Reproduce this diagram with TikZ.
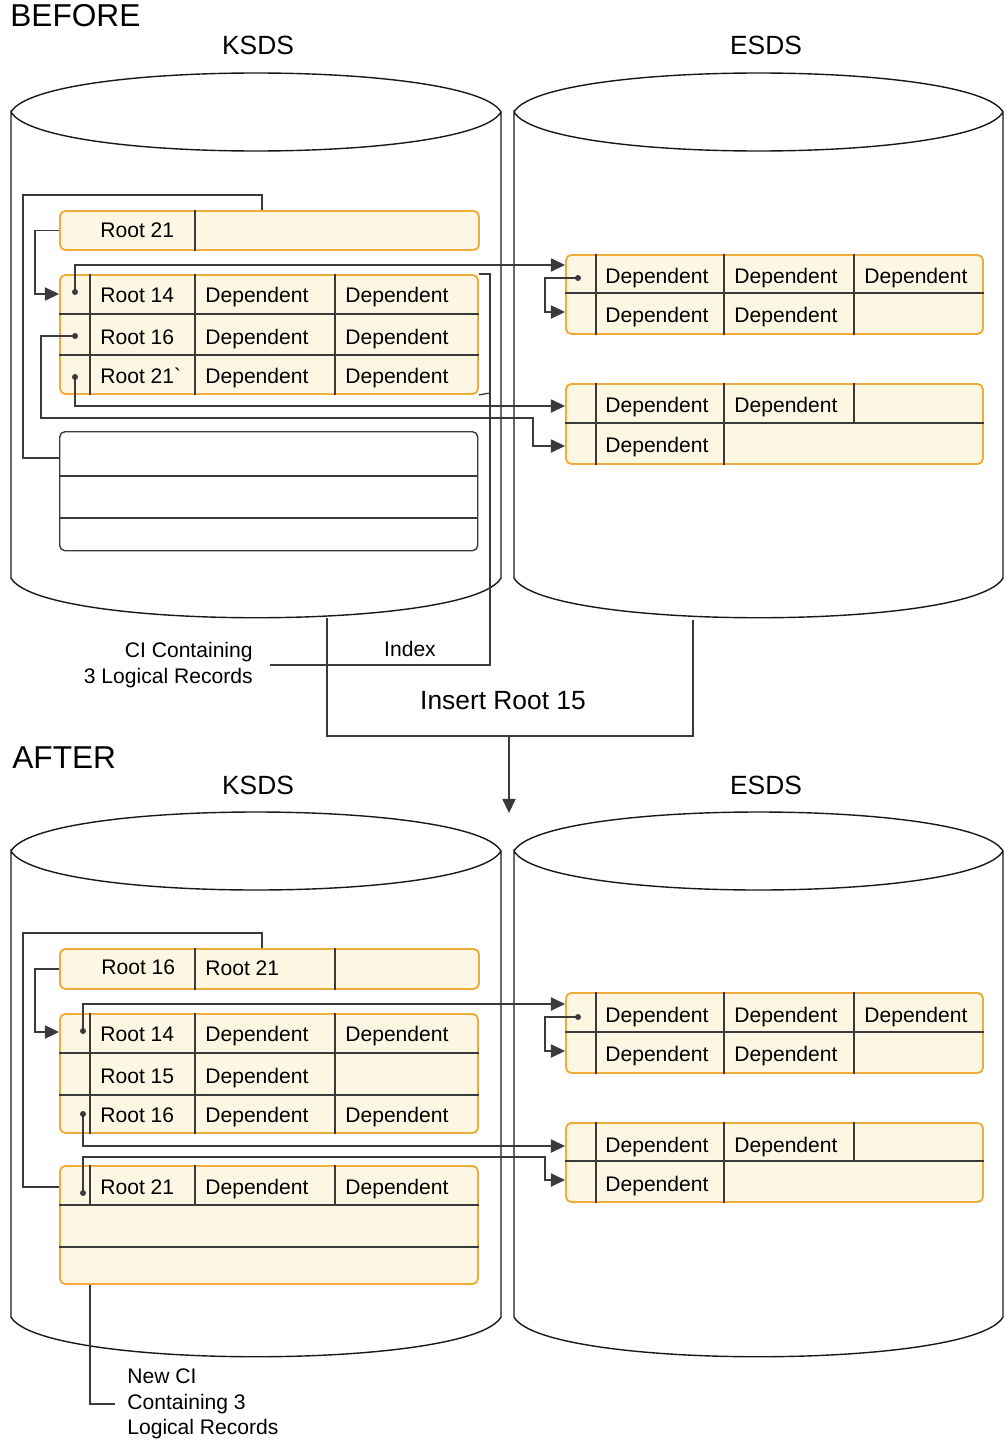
\documentclass[tikz,border=0pt]{standalone}
\usepackage{fontspec}
\setmainfont{Liberation Sans}
\usetikzlibrary{arrows.meta}
\definecolor{recedge}{HTML}{F0AC3A}
\definecolor{recfill}{HTML}{FDF6E2}
\definecolor{wire}{HTML}{3A3A3A}
\newcommand{\upx}{0.02cm}

\begin{document}
\begin{tikzpicture}[x=0.02cm, y=-0.02cm,
  drum/.style={draw=black!90, line width=0.8pt},
  rec/.style={draw=recedge, fill=recfill, line width=1.1pt, rounded corners=3pt, anchor=north west, inner sep=0pt},
  freeci/.style={draw=wire, fill=white, line width=0.8pt, rounded corners=3pt, anchor=north west, inner sep=0pt},
  grid/.style={draw=wire, line width=0.75pt},
  link/.style={draw=wire, line width=0.75pt},
  arr/.style={link, -{Triangle[length=8pt,width=7.5pt]}},
  cell/.style={anchor=west, inner sep=0pt, text height=8.6pt, text depth=0pt, font=\fontsize{12}{14.4}\selectfont},
  lbl/.style={inner sep=0pt, font=\fontsize{12}{14.6}\selectfont},
  head/.style={inner sep=0pt, font=\fontsize{15}{18}\selectfont},
  title/.style={anchor=base west, inner sep=0pt, font=\fontsize{18}{21}\selectfont}
]
\useasboundingbox (0,0) rectangle (1005,1443);

% ---------------- before
\node[title] (before) at (10,27) {BEFORE};
\node[head] (bksds) at (258,45) {KSDS};
\node[head] (besds) at (766,45) {ESDS};

\draw[drum] (11,112) .. controls (41,60) and (471,60) .. (501,112) .. controls (471,164) and (41,164) .. (11,112)
  -- (11,578) .. controls (41,631) and (471,631) .. (501,578) -- (501,112);
\draw[drum] (514,112) .. controls (544,60) and (973,60) .. (1003,112) .. controls (973,164) and (544,164) .. (514,112)
  -- (514,578) .. controls (544,631) and (973,631) .. (1003,578) -- (1003,112);

\node[rec, minimum width=419*\upx, minimum height=39*\upx] (bidx) at (59,210) {};
\node[rec, minimum width=418*\upx, minimum height=119*\upx] (bci) at (59,274) {};
\node[freeci, minimum width=418*\upx, minimum height=119*\upx] (bfree) at (59,431) {};
\node[rec, minimum width=417*\upx, minimum height=79*\upx] (be1) at (565,254) {};
\node[rec, minimum width=417*\upx, minimum height=80*\upx] (be2) at (565,383) {};

\draw[grid] (bidx.north -| 195,0) -- (bidx.south -| 195,0);
\foreach \x in {90,195,335} \draw[grid] (bci.north -| \x,0) -- (bci.south -| \x,0);
\foreach \y in {314,355} \draw[grid] (bci.west |- 0,\y) -- (bci.east |- 0,\y);
\foreach \y in {476,518} \draw[grid] (bfree.west |- 0,\y) -- (bfree.east |- 0,\y);
\foreach \x in {596,724,854} \draw[grid] (be1.north -| \x,0) -- (be1.south -| \x,0);
\draw[grid] (be1.west |- 0,293) -- (be1.east |- 0,293);
\foreach \x in {596,724} \draw[grid] (be2.north -| \x,0) -- (be2.south -| \x,0);
\draw[grid] (be2.north -| 854,0) -- (854,423);
\draw[grid] (be2.west |- 0,423) -- (be2.east |- 0,423);

\node[cell] (bidx-k1) at (100,230) {Root 21};
\foreach \y/\k [count=\i] in {295/Root 14,337/Root 16,376/Root 21\textasciigrave} {
  \node[cell] (bci-k\i) at (100,\y) {\k};
  \node[cell] (bci-a\i) at (205,\y) {Dependent};
  \node[cell] (bci-b\i) at (345,\y) {Dependent};
}
\foreach \x [count=\i] in {605,734,864} \node[cell] (be1-a\i) at (\x,276) {Dependent};
\foreach \x [count=\i] in {605,734} \node[cell] (be1-b\i) at (\x,315) {Dependent};
\foreach \x [count=\i] in {605,734} \node[cell] (be2-a\i) at (\x,405) {Dependent};
\node[cell] (be2-b1) at (605,445) {Dependent};

\coordinate (b14) at (75,292);
\coordinate (b16) at (75,336);
\coordinate (b21) at (75,377);
\coordinate (be1p) at (578,278);
\foreach \p in {b14,b16,b21,be1p} \fill[wire] (\p) circle (1.7pt);

\draw[link] (bidx.north -| 262,0) -- ++(0,-15) -| (23,458) -- (bfree.west |- 0,458);
\draw[arr] (bidx.west) -- ++(-24,0) |- (bci.west |- 0,294);
\draw[arr] (b14) |- (be1.west |- 0,265);
\draw[arr] (b16) -| (41,418) -| (533,446) -- (be2.west |- 0,446);
\draw[arr] (b21) |- (be2.west |- 0,406);
\draw[arr] (be1p) -- ++(-33,0) |- (be1.west |- 0,312);

\node[lbl, align=right, anchor=east] (cilbl) at (253,665) {CI Containing\\3 Logical Records};
\node[lbl] (index) at (410,649) {Index};
\draw[link] (bci.north east) -- (490,274) -- (490,665) -- ([xshift=17*\upx]cilbl.east);
\draw[link] (bci.south east) -- (490,393);

\node[head] (insert) at (503,701) {Insert Root 15};
\coordinate (bkbot) at (327,618);
\coordinate (bebot) at (693,620);
\coordinate (fork) at (509,736);
\coordinate (adrop) at (509,813);
\draw[link] (bkbot) |- (bebot |- fork) -- (bebot);
\draw[arr] (fork) -- (adrop);

% ---------------- after
\node[title] (after) at (12,768) {AFTER};
\node[head] (aksds) at (258,785) {KSDS};
\node[head] (aesds) at (766,785) {ESDS};

\draw[drum] (11,851) .. controls (41,799) and (471,799) .. (501,851) .. controls (471,903) and (41,903) .. (11,851)
  -- (11,1317) .. controls (41,1370) and (471,1370) .. (501,1317) -- (501,851);
\draw[drum] (514,851) .. controls (544,799) and (973,799) .. (1003,851) .. controls (973,903) and (544,903) .. (514,851)
  -- (514,1317) .. controls (544,1370) and (973,1370) .. (1003,1317) -- (1003,851);

\node[rec, minimum width=419*\upx, minimum height=40*\upx] (aidx) at (59,948) {};
\node[rec, minimum width=418*\upx, minimum height=119*\upx] (aci1) at (59,1013) {};
\node[rec, minimum width=418*\upx, minimum height=118*\upx] (aci2) at (59,1165) {};
\node[rec, minimum width=417*\upx, minimum height=80*\upx] (ae1) at (565,992) {};
\node[rec, minimum width=417*\upx, minimum height=79*\upx] (ae2) at (565,1122) {};

\foreach \x in {195,335} \draw[grid] (aidx.north -| \x,0) -- (aidx.south -| \x,0);
\foreach \x in {90,195,335} \draw[grid] (aci1.north -| \x,0) -- (aci1.south -| \x,0);
\foreach \y in {1053,1095} \draw[grid] (aci1.west |- 0,\y) -- (aci1.east |- 0,\y);
\foreach \x in {90,195,335} \draw[grid] (aci2.north -| \x,0) -- (\x,1205);
\foreach \y in {1205,1247} \draw[grid] (aci2.west |- 0,\y) -- (aci2.east |- 0,\y);
\foreach \x in {596,724,854} \draw[grid] (ae1.north -| \x,0) -- (ae1.south -| \x,0);
\draw[grid] (ae1.west |- 0,1032) -- (ae1.east |- 0,1032);
\foreach \x in {596,724} \draw[grid] (ae2.north -| \x,0) -- (ae2.south -| \x,0);
\draw[grid] (ae2.north -| 854,0) -- (854,1161);
\draw[grid] (ae2.west |- 0,1161) -- (ae2.east |- 0,1161);

\node[cell] (aidx-k1) at (101,967) {Root 16};
\node[cell] (aidx-k2) at (205,968) {Root 21};
\foreach \y/\k [count=\i] in {1034/Root 14,1076/Root 15,1115/Root 16} {
  \node[cell] (aci1-k\i) at (100,\y) {\k};
  \node[cell] (aci1-a\i) at (205,\y) {Dependent};
}
\foreach \y [count=\i] in {1034,1115} \node[cell] (aci1-b\i) at (345,\y) {Dependent};
\node[cell] (aci2-k1) at (100,1187) {Root 21};
\node[cell] (aci2-a1) at (205,1187) {Dependent};
\node[cell] (aci2-b1) at (345,1187) {Dependent};
\foreach \x [count=\i] in {605,734,864} \node[cell] (ae1-a\i) at (\x,1015) {Dependent};
\foreach \x [count=\i] in {605,734} \node[cell] (ae1-b\i) at (\x,1054) {Dependent};
\foreach \x [count=\i] in {605,734} \node[cell] (ae2-a\i) at (\x,1145) {Dependent};
\node[cell] (ae2-b1) at (605,1184) {Dependent};

\coordinate (a14) at (83,1031);
\coordinate (a16) at (83,1114);
\coordinate (a21) at (83,1193);
\coordinate (ae1p) at (578,1017);
\foreach \p in {a14,a16,a21,ae1p} \fill[wire] (\p) circle (1.7pt);

\draw[link] (aidx.north -| 262,0) -- ++(0,-15) -| (23,1187) -- (aci2.west |- 0,1187);
\draw[arr] (aidx.west) -- ++(-24,0) |- (aci1.west |- 0,1032);
\draw[arr] (a14) |- (ae1.west |- 0,1004);
\draw[arr] (a16) |- (ae2.west |- 0,1146);
\draw[arr] (a21) |- (545,1157) |- (ae2.west |- 0,1180);
\draw[arr] (ae1p) -- ++(-33,0) |- (ae1.west |- 0,1051);

\node[lbl, align=left, anchor=west] (newci) at (127,1404) {New CI\\Containing 3\\Logical Records};
\draw[link] (aci2.south -| 90,0) |- ([xshift=-12*\upx]newci.west);
\end{tikzpicture}
\end{document}
